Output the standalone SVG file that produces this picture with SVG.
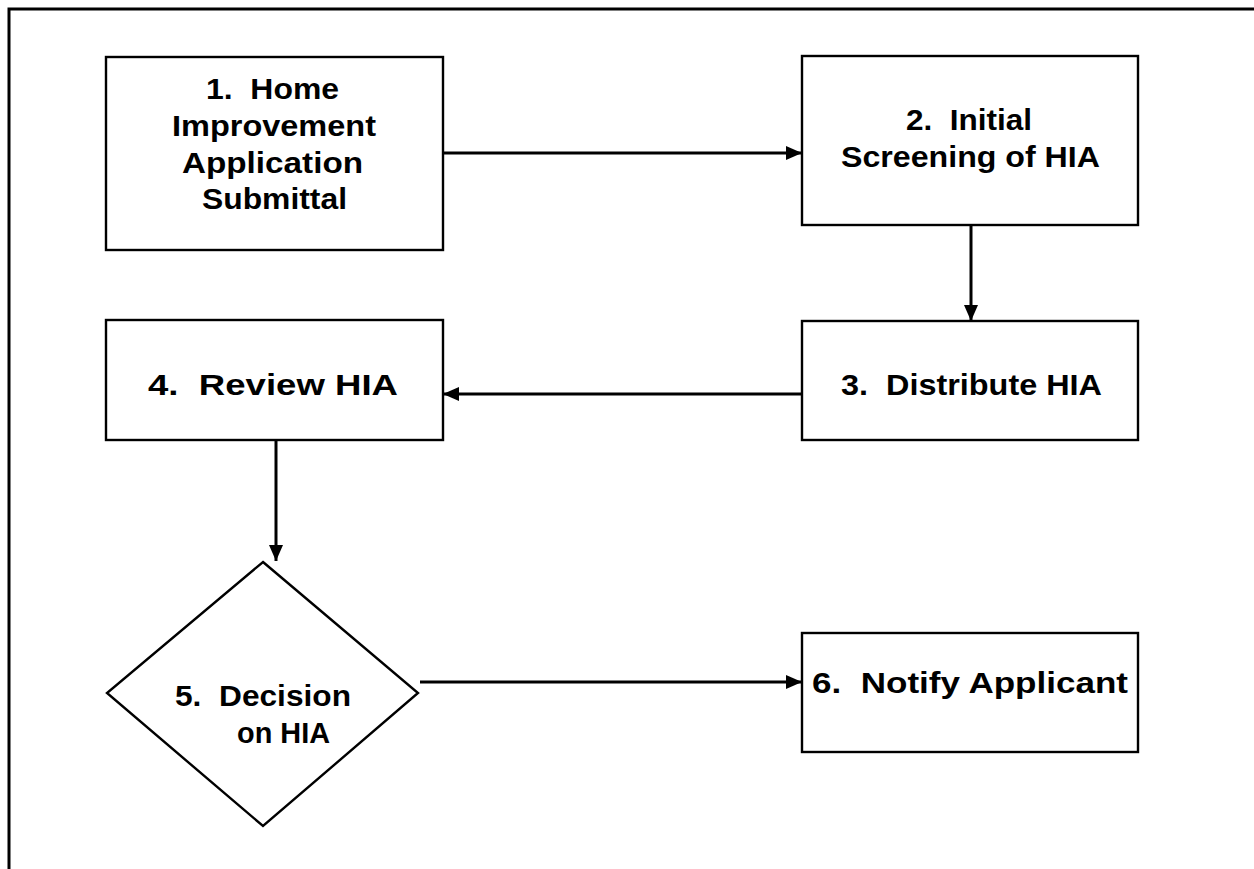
<svg xmlns="http://www.w3.org/2000/svg" width="1254" height="869" viewBox="0 0 1254 869">
<defs>
<style>
.box{fill:#fff;stroke:#000;stroke-width:2.4}
.lbl{font-family:"Liberation Sans",Arial,sans-serif;font-weight:bold;font-size:29px;fill:#000}
.con{stroke:#000;stroke-width:3;fill:none}
.frame{stroke:#000;stroke-width:3;fill:none}
</style>
<marker id="ah" viewBox="0 0 16 14" refX="16" refY="7" markerWidth="16" markerHeight="14" markerUnits="userSpaceOnUse" orient="auto">
<path d="M0,0 L16,7 L0,14 Z" fill="#000"/>
</marker>
</defs>
<rect width="1254" height="869" fill="#fff"/>
<path class="frame" d="M9,869 L9,9 L1254,9"/>

<g id="node1">
<rect class="box" x="106" y="57" width="337" height="193"/>
<text class="lbl" xml:space="preserve" x="206" y="99" textLength="133" lengthAdjust="spacingAndGlyphs">1.  Home</text>
<text class="lbl" x="172" y="136" textLength="204" lengthAdjust="spacingAndGlyphs">Improvement</text>
<text class="lbl" x="182" y="173" textLength="181" lengthAdjust="spacingAndGlyphs">Application</text>
<text class="lbl" x="202" y="209" textLength="145" lengthAdjust="spacingAndGlyphs">Submittal</text>
</g>

<g id="node2">
<rect class="box" x="802" y="56" width="336" height="169"/>
<text class="lbl" xml:space="preserve" x="906" y="130" textLength="126" lengthAdjust="spacingAndGlyphs">2.  Initial</text>
<text class="lbl" x="841" y="167" textLength="259" lengthAdjust="spacingAndGlyphs">Screening of HIA</text>
</g>

<g id="node3">
<rect class="box" x="802" y="321" width="336" height="119"/>
<text class="lbl" xml:space="preserve" x="841" y="395" textLength="261" lengthAdjust="spacingAndGlyphs">3.  Distribute HIA</text>
</g>

<g id="node4">
<rect class="box" x="106" y="320" width="337" height="120"/>
<text class="lbl" xml:space="preserve" x="148" y="395" textLength="250" lengthAdjust="spacingAndGlyphs">4.  Review HIA</text>
</g>

<g id="node5">
<path class="box" d="M263,562 L418,693 L263,826 L107,693 Z"/>
<text class="lbl" xml:space="preserve" x="175" y="706" textLength="176" lengthAdjust="spacingAndGlyphs">5.  Decision</text>
<text class="lbl" x="237" y="743" textLength="93" lengthAdjust="spacingAndGlyphs">on HIA</text>
</g>

<g id="node6">
<rect class="box" x="802" y="633" width="336" height="119"/>
<text class="lbl" xml:space="preserve" x="812" y="693" textLength="316" lengthAdjust="spacingAndGlyphs">6.  Notify Applicant</text>
</g>

<g id="connectors">
<line class="con" x1="443" y1="153" x2="802" y2="153" marker-end="url(#ah)"/>
<line class="con" x1="971" y1="225" x2="971" y2="321" marker-end="url(#ah)"/>
<line class="con" x1="802" y1="394" x2="443" y2="394" marker-end="url(#ah)"/>
<line class="con" x1="276" y1="440" x2="276" y2="561" marker-end="url(#ah)"/>
<line class="con" x1="420" y1="682" x2="802" y2="682" marker-end="url(#ah)"/>
</g>
</svg>
